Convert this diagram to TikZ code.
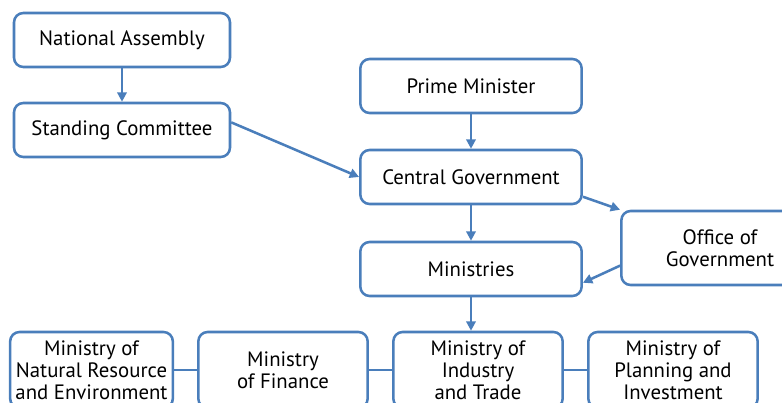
\documentclass[tikz,border=0pt]{standalone}
\usepackage{fontspec}
\setmainfont{PT Sans}
\usetikzlibrary{arrows.meta}
\definecolor{frame}{HTML}{4A7EBB}

\begin{document}
\begin{tikzpicture}[x=0.75pt, y=-0.75pt, >={Triangle[length=7pt,width=7pt]},
    font=\fontsize{15.6}{16.5}\selectfont,
    box/.style={draw=frame, line width=1.9pt, rounded corners=7pt, align=center, fill=white,
                minimum height=40.5pt, minimum width=166pt, inner sep=2pt},
    low/.style={box, minimum height=57pt, minimum width=127pt},
    link/.style={draw=frame, line width=1.9pt}]
    \clip (0,0) rectangle (782,403);
    \node[box, minimum width=162pt] (na) at (122,40)  {National Assembly};
    \node[box, minimum width=162pt] (sc) at (122,130) {Standing Committee};
    \node[box] (pm)  at (471,86)  {Prime Minister};
    \node[box] (cg)  at (471,177) {Central Government};
    \node[box] (min) at (471,269) {Ministries};
    \node[box, minimum width=148pt, minimum height=55.5pt] (og) at (720,248) {Office of\\Government};

    \node[low, minimum width=122pt] (nre) at (91.5,370) {Ministry of\\Natural Resource\\and Environment};
    \node[low] (fin) at (283,370) {Ministry\\of Finance};
    \node[low] (ind) at (478,370) {Ministry of\\Industry\\and Trade};
    \node[low] (pla) at (673,370) {Ministry of\\Planning and\\Investment};

    \foreach \a/\b in {na/sc, pm/cg, cg/min} \draw[link,->] (\a) -- (\b);
    \draw[link,->] (sc.4) -- (cg.west);
    \draw[link,->] (cg.-10) -- (og.north west);
    \draw[link,->] (og.190) -- (min.-7);
    \draw[link,->] (min.south) -- (min.south |- ind.north);
    \foreach \a/\b in {nre/fin, fin/ind, ind/pla} \draw[link] (\a) -- (\b);
  \end{tikzpicture}
\end{document}
